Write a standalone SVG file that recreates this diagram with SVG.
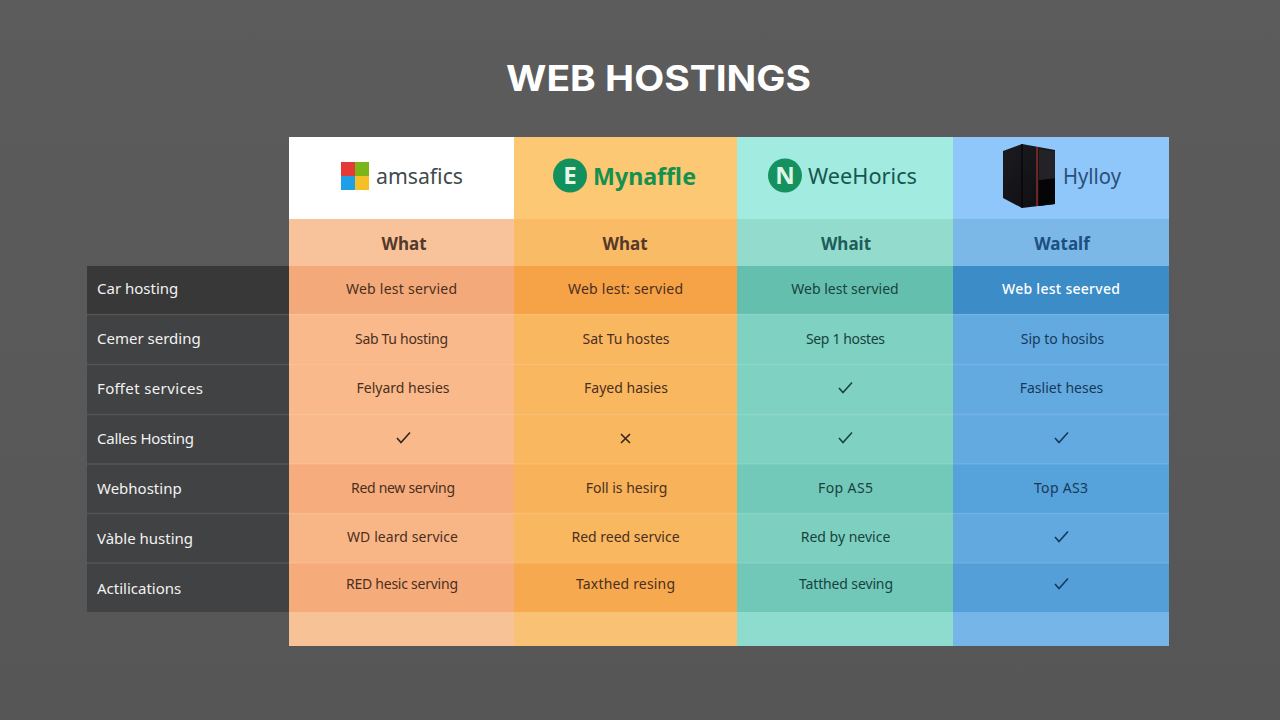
<svg xmlns="http://www.w3.org/2000/svg" width="1280" height="720" viewBox="0 0 1280 720">
<style>
text{font-family:"Noto Sans","Liberation Sans",sans-serif}
.c{font-size:14px;text-anchor:middle;fill:#4a2f20}
.c3{fill:#17433e}.c4{fill:#16395a}
.l{font-size:15px;fill:#f2f2f2}
.h{font-size:17px;font-weight:700;text-anchor:middle;fill:#55392a}
.sep{stroke:#fff;stroke-opacity:.1;stroke-width:1.5}
.ck{fill:none;stroke-width:1.6}
</style>
<defs>
<linearGradient id="bg" x1="0" y1="0" x2="0" y2="1"><stop offset="0" stop-color="#5c5c5c"/><stop offset="1" stop-color="#565656"/></linearGradient>
<linearGradient id="gloss" x1="0" y1="0" x2="1" y2="1"><stop offset="0" stop-color="#1c1b20"/><stop offset="1" stop-color="#0d0d10"/></linearGradient>
</defs>
<rect width="1280" height="720" fill="url(#bg)"/>
<text id="title" x="658.500" y="91" font-size="36" font-weight="700" text-anchor="middle" fill="#fff" style="font-family:Inter,'Liberation Sans',sans-serif" textLength="305" lengthAdjust="spacingAndGlyphs">WEB HOSTINGS</text>

<g id="row-labels">
<rect x="87" y="266" width="202" height="48" fill="#383838"/>
<rect x="87" y="314" width="202" height="298" fill="#414243"/>
<text class="l" x="97" y="294">Car hosting</text>
<text class="l" x="97" y="344">Cemer serding</text>
<text class="l" x="97" y="394" textLength="106">Foffet services</text>
<text class="l" x="97" y="444" textLength="97">Calles Hosting</text>
<text class="l" x="97" y="494">Webhostinp</text>
<text class="l" x="97" y="544">Vàble husting</text>
<text class="l" x="97" y="594">Actilications</text>
</g>

<g id="col-1">
<rect x="289" y="137" width="225" height="82" fill="#fff"/>
<rect x="289" y="219" width="225" height="47" fill="#f8c39b"/>
<rect x="289" y="266" width="225" height="48" fill="#f4a97b"/>
<rect x="289" y="314" width="225" height="150" fill="#f9b98b"/>
<rect x="289" y="464" width="225" height="49" fill="#f6ac7d"/>
<rect x="289" y="513" width="225" height="50" fill="#f8b687"/>
<rect x="289" y="563" width="225" height="49" fill="#f6ab7b"/>
<rect x="289" y="612" width="225" height="34" fill="#f8c297"/>
<g id="logo-1">
<rect x="341" y="162" width="14" height="14" fill="#e53935"/><rect x="355" y="162" width="14" height="14" fill="#7cb518"/>
<rect x="341" y="176" width="14" height="14" fill="#1e9fe6"/><rect x="355" y="176" width="14" height="14" fill="#f7bf26"/>
<text x="376" y="184" font-size="22" fill="#404a4d" textLength="87" lengthAdjust="spacingAndGlyphs">amsafics</text>
</g>
<text class="h" x="404" y="250">What</text>
<text class="c" x="401.500" y="294" textLength="111">Web lest servied</text>
<text class="c" x="401.500" y="344" textLength="93">Sab Tu hosting</text>
<text class="c" x="403" y="393">Felyard hesies</text>
<path class="ck" stroke="#33261f" d="M397 438l4 4.500 9-10"/>
<text class="c" x="403" y="493" textLength="104">Red new serving</text>
<text class="c" x="402.500" y="542" textLength="111">WD leard service</text>
<text class="c" x="402" y="589" textLength="112">RED hesic serving</text>
</g>

<g id="col-2">
<rect x="514" y="137" width="223" height="82" fill="#fcc874"/>
<rect x="514" y="219" width="223" height="47" fill="#f9bb66"/>
<rect x="514" y="266" width="223" height="48" fill="#f6a246"/>
<rect x="514" y="314" width="223" height="150" fill="#f9b760"/>
<rect x="514" y="464" width="223" height="49" fill="#f8b25a"/>
<rect x="514" y="513" width="223" height="50" fill="#f9b75f"/>
<rect x="514" y="563" width="223" height="49" fill="#f6a94e"/>
<rect x="514" y="612" width="223" height="34" fill="#f9c173"/>
<g id="logo-2">
<circle cx="570" cy="175.500" r="17" fill="#12915c"/>
<text x="570" y="184" font-size="24" font-weight="700" text-anchor="middle" fill="#e8f5e9">E</text>
<text x="593" y="185" font-size="24" font-weight="700" fill="#14904f" textLength="103" lengthAdjust="spacingAndGlyphs">Mynaffle</text>
</g>
<text class="h" x="625" y="250">What</text>
<text class="c" x="625.500" y="294" textLength="115">Web lest: servied</text>
<text class="c" x="626" y="344">Sat Tu hostes</text>
<text class="c" x="626" y="393">Fayed hasies</text>
<path class="ck" stroke="#33261f" d="M621 434l9 9m0-9l-9 9"/>
<text class="c" x="626.500" y="493">Foll is hesirg</text>
<text class="c" x="625.500" y="542">Red reed service</text>
<text class="c" x="625.500" y="589" textLength="99">Taxthed resing</text>
</g>

<g id="col-3">
<rect x="737" y="137" width="216" height="82" fill="#a2ebe0"/>
<rect x="737" y="219" width="216" height="47" fill="#93dccd"/>
<rect x="737" y="266" width="216" height="48" fill="#65bfae"/>
<rect x="737" y="314" width="216" height="150" fill="#7fd2c2"/>
<rect x="737" y="464" width="216" height="49" fill="#73c9b9"/>
<rect x="737" y="513" width="216" height="50" fill="#7dd0c0"/>
<rect x="737" y="563" width="216" height="49" fill="#72c8b8"/>
<rect x="737" y="612" width="216" height="34" fill="#8ddccd"/>
<g id="logo-3">
<circle cx="785" cy="175.500" r="17" fill="#14915f"/>
<text x="785" y="184" font-size="24" font-weight="700" text-anchor="middle" fill="#dff3e6">N</text>
<text x="808" y="184" font-size="22.500" fill="#175650" textLength="109" lengthAdjust="spacingAndGlyphs">WeeHorics</text>
</g>
<text class="h c3" x="846" y="250" style="fill:#1f5c5a">Whait</text>
<text class="c c3" x="845" y="294">Web lest servied</text>
<text class="c c3" x="845.500" y="344" textLength="79">Sep 1 hostes</text>
<path class="ck" stroke="#17433e" d="M839 388l4 4.500 9-10"/>
<path class="ck" stroke="#17433e" d="M839 438l4 4.500 9-10"/>
<text class="c c3" x="845.500" y="493" textLength="55">Fop AS5</text>
<text class="c c3" x="845.500" y="542">Red by nevice</text>
<text class="c c3" x="846" y="589" textLength="94">Tatthed seving</text>
</g>

<g id="col-4">
<rect x="953" y="137" width="216" height="82" fill="#8fc7fb"/>
<rect x="953" y="219" width="216" height="47" fill="#7bb8e8"/>
<rect x="953" y="266" width="216" height="48" fill="#3b8cc7"/>
<rect x="953" y="314" width="216" height="150" fill="#63aae1"/>
<rect x="953" y="464" width="216" height="49" fill="#56a2da"/>
<rect x="953" y="513" width="216" height="50" fill="#62a9e0"/>
<rect x="953" y="563" width="216" height="49" fill="#559fd8"/>
<rect x="953" y="612" width="216" height="34" fill="#75b5e8"/>
<g id="logo-4">
<path d="M1003 151l19-7 33 6v54l-33 4-19-10z" fill="url(#gloss)"/>
<path d="M1022 144v64" stroke="#000" stroke-width="1" fill="none"/>
<path d="M1037 147v59" stroke="#a3302a" stroke-width="1.300" fill="none"/>
<path d="M1039 180l16-1v25l-16 2z" fill="#050507"/>
<path d="M1039 149l16 2v27l-16 2z" fill="#232227"/>
<text x="1063" y="184" font-size="22" fill="#2c4f78" textLength="58" lengthAdjust="spacingAndGlyphs">Hylloy</text>
</g>
<text class="h c4" x="1062" y="250" style="fill:#1d4f80">Watalf</text>
<text class="c" x="1061" y="294" style="fill:#fff;font-weight:500" textLength="118">Web lest seerved</text>
<text class="c c4" x="1062.500" y="344">Sip to hosibs</text>
<text class="c c4" x="1061.500" y="393">Fasliet heses</text>
<path class="ck" stroke="#16395a" d="M1055 438l4 4.500 9-10"/>
<text class="c c4" x="1061" y="493" textLength="54">Top AS3</text>
<path class="ck" stroke="#16395a" d="M1055 537l4 4.500 9-10"/>
<path class="ck" stroke="#16395a" d="M1055 584l4 4.500 9-10"/>
</g>

<g id="row-lines">
<path class="sep" d="M87 364.500H1169M87 414.500H1169M87 464H1169M87 513.500H1169M87 563H1169"/>
<path class="sep" d="M87 314.500H1169"/>
</g>
</svg>
